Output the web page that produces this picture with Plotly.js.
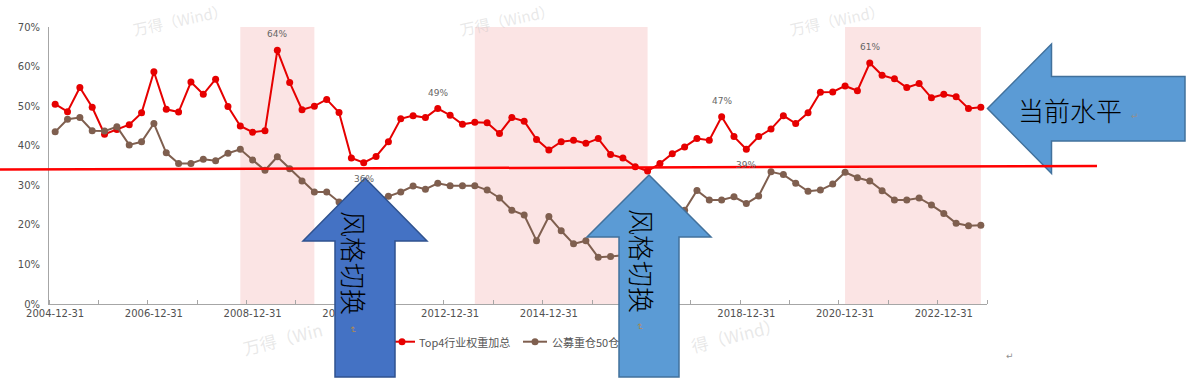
<!DOCTYPE html>
<html><head><meta charset="utf-8">
<script src="https://cdn.plot.ly/plotly-3.0.1.min.js"></script>
<style>html,body{margin:0;padding:0;background:#fff}#chart{width:1192px;height:386px}</style>
</head><body><div id="chart"></div>
<script>
// ---- categories: quarter-end dates 2004-12-31 .. 2023-09-30 ----
const quarterEnds = ['03-31', '06-30', '09-30', '12-31'];
const dates = ['2004-12-31'];
for (let y = 2005; y <= 2023; y++) {
  for (const q of quarterEnds) {
    const d = y + '-' + q;
    if (d <= '2023-09-30') dates.push(d);
  }
}

// ---- series (percent) ----
const top4Weight = [
  50.5, 48.6, 54.7, 49.7, 42.9, 44.1, 45.3, 48.3, 58.7, 49.2,
  48.5, 56.1, 53.0, 56.8, 49.9, 45.0, 43.4, 43.8, 64.1, 56.0,
  49.1, 50.0, 51.7, 48.4, 36.9, 35.7, 37.3, 41.0, 46.8, 47.6,
  47.1, 49.4, 47.7, 45.4, 45.9, 45.8, 43.1, 47.1, 46.2, 41.6,
  38.9, 41.0, 41.4, 40.6, 41.8, 37.8, 36.9, 34.7, 33.6, 35.5,
  38.0, 39.7, 41.8, 41.4, 47.3, 42.3, 39.1, 42.3, 44.2, 47.6,
  45.6, 48.3, 53.5, 53.6, 55.1, 53.9, 60.9, 57.8, 56.9, 54.7,
  55.7, 52.1, 53.0, 52.4, 49.4, 49.7
];
const fundTop50 = [
  43.5, 46.7, 47.1, 43.8, 43.7, 44.8, 40.2, 41.0, 45.6, 38.2,
  35.5, 35.5, 36.6, 36.2, 38.1, 39.1, 36.4, 33.8, 37.2, 34.2,
  31.1, 28.3, 28.3, 25.8, 24.6, 25.3, 26.4, 27.2, 28.3, 29.8,
  29.0, 30.5, 29.9, 29.9, 29.9, 28.8, 26.8, 23.7, 22.5, 16.0,
  22.1, 18.5, 15.2, 16.0, 11.8, 12.0, 12.3, 13.5, 15.5, 18.5,
  21.5, 23.7, 28.7, 26.3, 26.3, 27.1, 25.4, 27.3, 33.4, 32.7,
  30.5, 28.5, 28.8, 30.3, 33.3, 31.9, 31.1, 28.6, 26.3, 26.3,
  26.8, 25.0, 22.9, 20.4, 19.8, 19.9
];
const seriesNames = ['Top4行业权重加总', '公募重仓50仓'];

// ---- ticks ----
const tickDates = ['2004-12-31', '2006-12-31', '2008-12-31', '2010-12-31', '2012-12-31',
                   '2014-12-31', '2016-12-31', '2018-12-31', '2020-12-31', '2022-12-31'];
const yTicks = [0, 10, 20, 30, 40, 50, 60, 70];

// ---- shaded periods ----
const shadeFrom = ['2008-09-30', '2013-06-30', '2020-12-31'];
const shadeTo   = ['2010-03-31', '2016-12-31', '2023-09-30'];

// ---- labelled points on the Top4 series ----
const labelDates = ['2009-06-30', '2011-03-31', '2012-09-30', '2018-06-30', '2018-12-31', '2021-06-30'];
const labelSide  = ['above', 'below', 'above', 'above', 'below', 'above'];

// ---- annotation texts ----
const arrowText = '风格切换';
const levelText = '当前水平';
const watermark = '万得（Wind）';

// ================= drawing =================
const idx = dates.map((d, i) => i);
const pos = d => dates.indexOf(d);

const L = 49, T = 27, W = 938, H = 277;
const fx = p => (p - L) / W;
const fy = p => (T + H - p) / H;
const path = pts => 'M' + pts.map(p => fx(p[0]).toFixed(5) + ',' + fy(p[1]).toFixed(5)).join(' L') + ' Z';

const RED = '#e60000', BROWN = '#7f5f4f';

const traces = [
  { x: idx, y: top4Weight, name: seriesNames[0], type: 'scatter', mode: 'lines+markers',
    line: { color: RED, width: 2 }, marker: { color: RED, size: 7 }, showlegend: false },
  { x: idx, y: fundTop50, name: seriesNames[1], type: 'scatter', mode: 'lines+markers',
    line: { color: BROWN, width: 2 }, marker: { color: BROWN, size: 7 }, showlegend: false }
];

const shapes = [];
shadeFrom.forEach((d, k) => shapes.push({
  type: 'rect', xref: 'x', yref: 'y', x0: pos(d), x1: pos(shadeTo[k]), y0: 0, y1: 70,
  fillcolor: '#fbe4e4', line: { width: 0 }, layer: 'below'
}));

// custom legend symbols (drawn under the arrows)
const legendY = 341.7;
[[389, 415, 402, RED], [523, 547, 535, BROWN]].forEach(s => {
  shapes.push({ type: 'line', xref: 'paper', yref: 'paper', x0: fx(s[0]), x1: fx(s[1]),
    y0: fy(legendY), y1: fy(legendY), line: { color: s[3], width: 2 }, layer: 'above' });
  shapes.push({ type: 'circle', xref: 'paper', yref: 'paper', xsizemode: 'pixel', ysizemode: 'pixel',
    xanchor: fx(s[2]), yanchor: fy(legendY), x0: -3.5, x1: 3.5, y0: -3.5, y1: 3.5,
    fillcolor: s[3], line: { width: 0 }, layer: 'above' });
});

// arrows
const upArrow = (cx, tipY, baseY, bottom) => path([
  [cx, tipY], [cx + 62, baseY], [cx + 30, baseY], [cx + 30, bottom],
  [cx - 30, bottom], [cx - 30, baseY], [cx - 62, baseY]
]);
shapes.push({ type: 'path', xref: 'paper', yref: 'paper', path: upArrow(365, 178, 241, 377),
  fillcolor: '#4472c4', line: { color: '#2f528f', width: 1.5 }, layer: 'above' });
shapes.push({ type: 'path', xref: 'paper', yref: 'paper', path: upArrow(649, 175, 237, 377),
  fillcolor: '#5b9bd5', line: { color: '#41719c', width: 1.5 }, layer: 'above' });
shapes.push({ type: 'path', xref: 'paper', yref: 'paper', path: path([
  [987.5, 108.5], [1051.5, 44], [1051.5, 76.5], [1185, 76.5],
  [1185, 141], [1051.5, 141], [1051.5, 173.5]
]), fillcolor: '#5b9bd5', line: { color: '#41719c', width: 1.5 }, layer: 'above' });

// hand-drawn red reference line
shapes.push({ type: 'line', xref: 'paper', yref: 'paper', x0: fx(0), y0: fy(169.5), x1: fx(1097), y1: fy(166),
  line: { color: '#ff0000', width: 2.5 }, layer: 'above' });

const annotations = [];
const note = (px, py, text, font, extra) => annotations.push(Object.assign({
  xref: 'paper', yref: 'paper', x: fx(px), y: fy(py), text: text, showarrow: false,
  xanchor: 'center', yanchor: 'middle', font: font
}, extra || {}));

// data labels
labelDates.forEach((d, k) => {
  const i = pos(d);
  annotations.push({ x: i, y: top4Weight[i], xref: 'x', yref: 'y', showarrow: false,
    xanchor: 'center', yanchor: 'middle',
    text: Math.round(top4Weight[i]) + '%', yshift: labelSide[k] === 'above' ? 16 : -16,
    font: { family: 'DejaVu Sans', size: 9, color: '#666666' } });
});
// watermarks
const wmFont = { family: 'Noto Sans CJK SC', size: 15, color: 'rgba(190,190,190,0.35)' };
[[180, 19, watermark], [507, 19, watermark], [837, 19, watermark]]
  .forEach(w => note(w[0], w[1], w[2], wmFont, { textangle: -12 }));
const wmFont2 = { family: 'Noto Sans CJK SC', size: 17, color: 'rgba(190,190,190,0.35)' };
[[282, 338, '万得（Win'], [736, 334, '得（Wind）']]
  .forEach(w => note(w[0], w[1], w[2], wmFont2, { textangle: -14 }));
// legend texts
const lgFont = { family: 'Noto Sans CJK SC', size: 11, color: '#555555' };
note(416.5, legendY, seriesNames[0], lgFont, { xanchor: 'left' });
note(549.5, legendY, seriesNames[1], lgFont, { xanchor: 'left' });
// arrow texts
const bigFont = { family: 'Noto Sans CJK SC', size: 26, color: '#000000', weight: 300 };
note(355, 263, arrowText, bigFont, { textangle: 90 });
note(643, 261, arrowText, bigFont, { textangle: 90 });
note(1070, 109, levelText, bigFont);
// paragraph marks
[[1135, 116, 0, '#909090'], [1010, 356, 0, '#909090'], [353, 330, 90, '#b08a50'], [640, 327, 90, '#b08a50']]
  .forEach(m => note(m[0], m[1], '↵', { family: 'DejaVu Sans', size: 9, color: m[3] }, { textangle: m[2] }));

const boundaries = [];
for (let k = 0; k <= dates.length / 4; k++) boundaries.push(-0.5 + 4 * k);

const layout = {
  width: 1192, height: 386,
  margin: { l: L, r: 1192 - L - W, t: T, b: 386 - T - H, pad: 0 },
  paper_bgcolor: '#ffffff', plot_bgcolor: 'rgba(0,0,0,0)',
  showlegend: false,
  xaxis: {
    range: [-0.5, dates.length - 0.5], showline: true, linecolor: '#a6a6a6', linewidth: 1,
    tickmode: 'array', tickvals: tickDates.map(pos), ticktext: tickDates, ticks: '',
    tickfont: { family: 'DejaVu Sans', size: 10, color: '#505050' },
    showgrid: false, zeroline: false, fixedrange: true,
    minor: { tickmode: 'array', tickvals: boundaries, ticks: 'inside', ticklen: 4,
             tickcolor: '#a6a6a6', tickwidth: 1, showgrid: false }
  },
  yaxis: {
    range: [0, 70], showline: true, linecolor: '#a6a6a6', linewidth: 1,
    tickmode: 'array', tickvals: yTicks, ticktext: yTicks.map(v => v + '%'), ticks: '',
    tickfont: { family: 'DejaVu Sans', size: 10, color: '#505050' },
    ticklabelstandoff: 6, showgrid: false, zeroline: false, fixedrange: true
  },
  shapes: shapes,
  annotations: annotations
};

Plotly.newPlot('chart', traces, layout, { displayModeBar: false, staticPlot: true });
</script>
</body></html>
